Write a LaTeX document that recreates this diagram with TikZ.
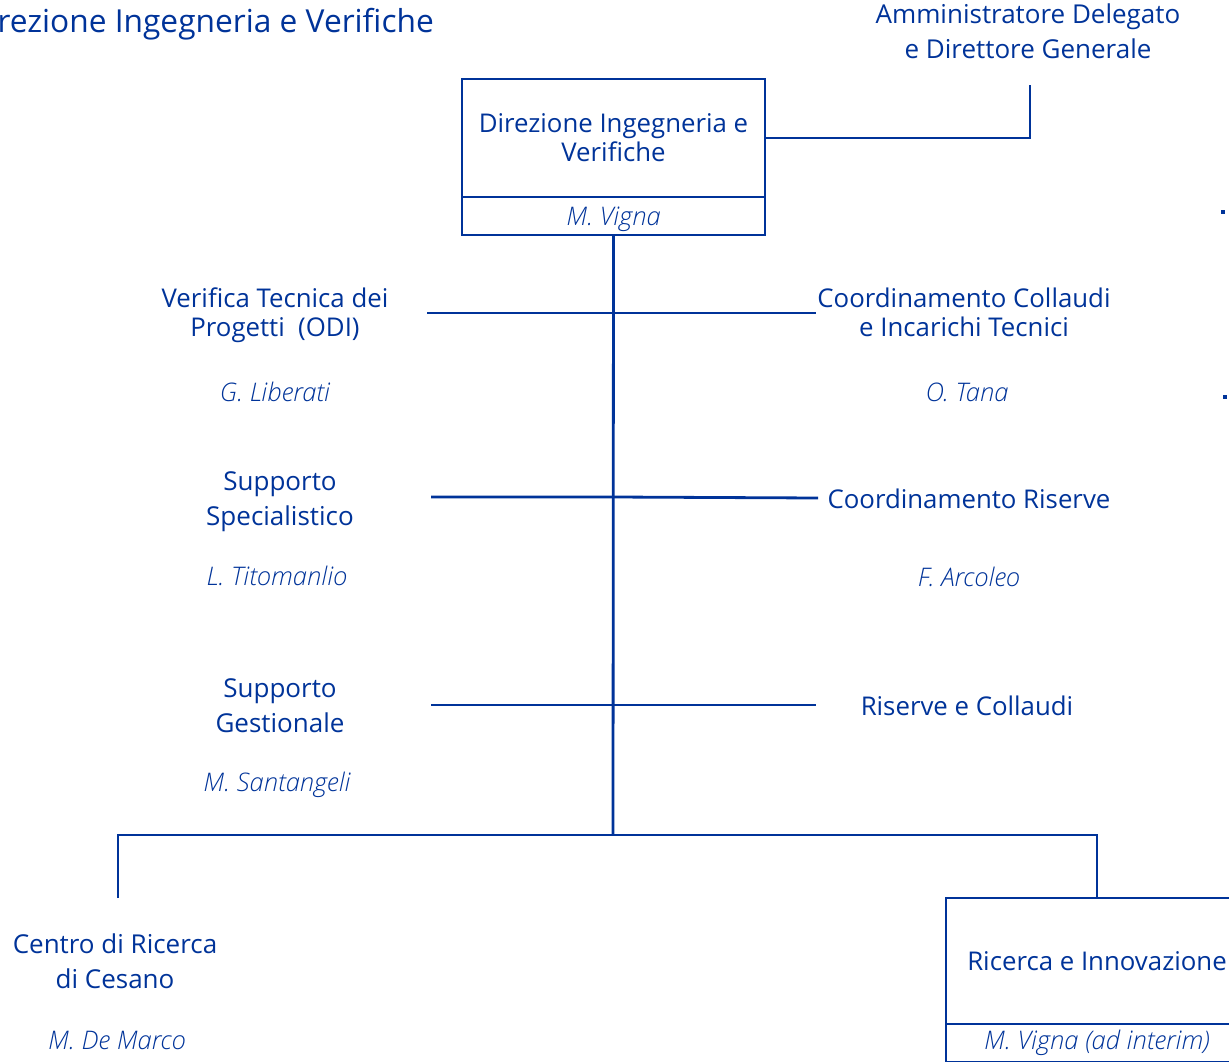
\documentclass[tikz,border=0pt]{standalone}
\usepackage{fontspec}
\setmainfont{Open Sans}
\IfFontExistsTF{Open Sans Light Italic}{\newfontfamily\nmfont{Open Sans Light Italic}}{\newfontfamily\nmfont{Open Sans}[UprightFont=*-Italic]}
\definecolor{navy}{RGB}{0,51,153}
\begin{document}
\begin{tikzpicture}[x=1pt,y=-1pt,
  ln/.style={draw=navy, line width=2.8pt},
  boxa/.style={draw=navy, line width=2.8pt, minimum width=303pt, inner sep=0pt, outer sep=0pt, anchor=north west},
  lbl/.style={text=navy, align=center, inner sep=0pt, font=\fontsize{25.8}{29}\selectfont},
  big/.style={text=navy, align=center, inner sep=0pt, font=\fontsize{26}{35}\selectfont},
  nm/.style={text=navy, inner sep=0pt, font=\fontsize{25.6}{29}\nmfont}]
\useasboundingbox (0,0) rectangle (1229,1062);
\clip (0,0) rectangle (1229,1062);
% title
\node[text=navy, inner sep=0pt, anchor=east, font=\fontsize{31.7}{38}\selectfont] (title) at (434,24) {Direzione Ingegneria e Verifiche};
% top
\node[big] (ad) at (1028,31) {Amministratore Delegato\\e Direttore Generale};
\coordinate (adc) at (1030,85);
\node[boxa, minimum height=118pt] (dir) at (462,79) {};
\node[boxa, minimum height=38pt] (dirn) at (462,197) {};
\node[lbl] (dirt) at (dir.center) {Direzione Ingegneria e\\Verifiche};
\node[nm] (dirnt) at ([yshift=-3]dirn.center) {M. Vigna};
\draw[ln] (dir.east) -| (adc);
% spine
\coordinate (bus) at (613,835);
\draw[ln] (dirn.south) -- (bus);
% branches
\coordinate (l1) at (427,313); \coordinate (r1) at (816,313);
\coordinate (l2) at (431,497); \coordinate (r2) at (818,498);
\coordinate (l3) at (431,705); \coordinate (r3) at (816,705);
\draw[ln] (l1) -- (r1);
\draw[ln] (l2) -- (613,497) -- (r2);
\draw[ln] (l3) -- (r3);
% left units
\node[lbl] (vt) at (275,315) {Verifica Tecnica dei\\Progetti\ \ (ODI)};
\node[nm] (vtn) at (275,392) {G. Liberati};
\node[big] (ss) at (280,502) {Supporto\\Specialistico};
\node[nm] (ssn) at (277,576) {L. Titomanlio};
\node[big] (sg) at (280,706) {Supporto\\Gestionale};
\node[nm] (sgn) at (277,785) {M. Santangeli};
% right units
\node[lbl] (cc) at (964,312) {Coordinamento Collaudi\\e Incarichi Tecnici};
\node[nm] (ccn) at (967,392) {O. Tana};
\node[lbl] (cr) at (969,499) {Coordinamento Riserve};
\node[nm] (crn) at (969,577) {F. Arcoleo};
\node[lbl] (rc) at (967,706) {Riserve e Collaudi};
% bottom
\node[big] (cen) at (115,961) {Centro di Ricerca\\di Cesano};
\node[nm] (cenn) at (117,1040) {M. De Marco};
\coordinate (cdrop) at (118,898);
\node[boxa, minimum width=302pt, minimum height=126pt] (ri) at (946,898) {};
\node[boxa, minimum width=302pt, minimum height=38pt] (rin) at (946,1024) {};
\node[lbl] (rit) at (ri.center) {Ricerca e Innovazione};
\node[nm] (rint) at (rin.center) {M. Vigna (ad interim)};
\draw[ln] (cdrop) |- (bus) -| (ri.north);
% stray dots
\fill[navy] (1221,210) rectangle (1225,214);
\fill[navy] (1223,395) rectangle (1227,399);
\end{tikzpicture}
\end{document}
